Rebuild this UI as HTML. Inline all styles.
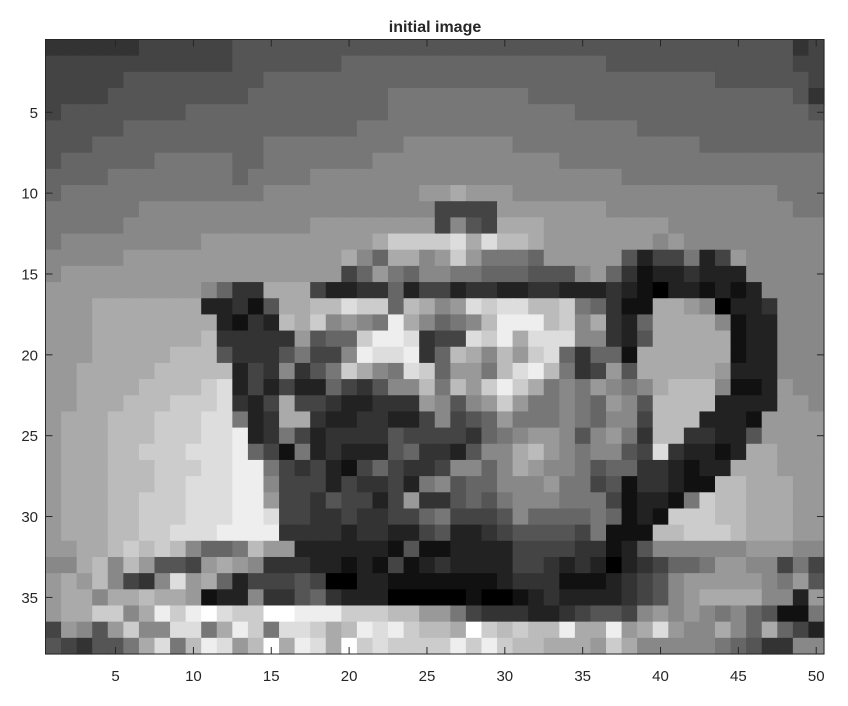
<!DOCTYPE html>
<html><head><meta charset="utf-8"><style>
html,body{margin:0;padding:0;background:#fff;width:848px;height:706px;overflow:hidden}
svg text{font-family:"Liberation Sans",Arial,sans-serif;fill:#262626}
</style></head><body>
<svg id="chart" width="848" height="706" xmlns="http://www.w3.org/2000/svg">
<text x="435" y="32" text-anchor="middle" font-size="16" font-weight="bold">initial image</text>
<g id="cells"></g>
<g id="ticks"></g>
<rect x="45.5" y="39.5" width="778.5" height="614.5" fill="none" stroke="#262626" stroke-width="1"/>
</svg>
<script>
// grayscale rows: one hex digit per pixel (value*17)
const pixelRows = [
"333333444444555555555555555555555555555555555555"+"34",
"4444444444445555555666666"+"66666666666555555555555"+"44",
"4444455555555566666666666"+"66666666666666666655555"+"54",
"4444555555555666666666777"+"77777766666666666666666"+"53",
"4555555556666666666666777"+"77777777766666666666666"+"65",
"5555566666666666666677777"+"77777777777776666666666"+"66",
"5556666666666677777777788"+"88888777777777777666666"+"66",
"5666666777776677777778888"+"88888888777777777777777"+"77",
"6666777777776777788888888"+"88888888888877777777777"+"77",
"6777777777777788888888889"+"9a999888888888888888887"+"77",
"7777778888888888888888888"+"44449999999888888888888"+"77",
"7777788888888888899999999"+"4854aaa9999999988888888"+"88",
"788888888899999999999accc"+"cdadbba9999999898888888"+"88",
"8888899999999999999a86aa8"+"9c977769999952447249888"+"88",
"8999999999999999999469768"+"87766655589631223222888"+"88",
"99999999998633aaa42233624"+"42332233222321022121288"+"88",
"999aaaaaaa22315aabbdcc6ba"+"89dcddbbc76311aa9802238"+"88",
"999aaaaaaaa2132bac8987ea8"+"678beeebc8a326aaaa81228"+"88",
"999aaaaaaab333339566ceed3"+"44dceaddd88325aaaaa1228"+"88",
"999aaaaabbb533357448edde3"+"6ba8b9cd63661aaaaaa1228"+"88",
"99aaaaabbbbb2438357ca87dc"+"6997bdeb73495aaaaa92228"+"88",
"99aaaabbbbcd242422643588b"+"7b9ceca7879878abbb81129"+"88",
"99aaabbbcccd324a443223339"+"8589c977876985bbbb22229"+"98",
"9aaabbbcccdd723aa32233224"+"84569777876884bbb222199"+"99",
"9aaabbbcccdde237423333544"+"44367899858973bb3322599"+"99",
"9aaabbcccddde641723222563"+"32588ab9878854d32212aa9"+"99",
"9aaabbbcccddee74342146433"+"48868a9887566332122aaa9"+"99",
"9aaabbbccdddee84442433427"+"856688897745133211bbaaa"+"99",
"9aaabbcccdddee94435442493"+"35657888777412217cbbaaa"+"99",
"9aaabbcccdddeed4433433446"+"744458666676121cccbbaaa"+"99",
"9aaabbccdddeeee3333233224"+"52234555547111bbcccbaaa"+"99",
"99aabcbcb8667b99222222151"+"12222444433125888888999"+"88",
"88ab8b95549a9833322121412"+"32222443232023466799884"+"74",
"9a9b8438d9a62444540022111"+"11112333111234589999987"+"95",
"9aa8aabaa9122833563222000"+"00100123222234589aaaa88"+"29",
"9aacc8aecefdccffeeecccbb9"+"97433322345548989878651"+"17",
"49859c88dd7aec7ddcabedecb"+"bafcbcbbeaae9ad988a86a6"+"42",
"543557ad7bed9bfaedafcdccc"+"cececbbaaa9ca8888876533"+"88"
];
const xTicks = [5,10,15,20,25,30,35,40,45,50];
const yTicks = [5,10,15,20,25,30,35];
const nCols = 50, nRows = 38;
const X0 = 45.5, Y0 = 39.5, W = 778.5, H = 614.5;
const NS = "http://www.w3.org/2000/svg";
const cw = W / nCols, ch = H / nRows;
function xPos(c){ return X0 + (c - 0.5) * cw; }   // left edge of column c (1-based)
function yPos(r){ return Y0 + (r - 0.5) * ch; }
const cells = document.getElementById('cells');
pixelRows.forEach(function(row, ri){
  for (let ci = 0; ci < row.length && ci < nCols; ci++) {
    const v = parseInt(row[ci], 16) * 17;
    const rect = document.createElementNS(NS, 'rect');
    
    
    rect.setAttribute('x', xPos(ci + 0.5));
    rect.setAttribute('y', yPos(ri + 0.5));
    rect.setAttribute('width', cw + 0.6);
    rect.setAttribute('height', ch + 0.6);
    rect.setAttribute('fill', 'rgb(' + v + ',' + v + ',' + v + ')');
    cells.appendChild(rect);
  }
});
const ticks = document.getElementById('ticks');
function line(x1,y1,x2,y2){
  const l = document.createElementNS(NS, 'line');
  
  
  l.setAttribute('x1',x1); l.setAttribute('y1',y1); l.setAttribute('x2',x2); l.setAttribute('y2',y2);
  l.setAttribute('stroke','#262626'); l.setAttribute('stroke-width','1');
  ticks.appendChild(l);
}
function label(x,y,txt,anchor,name){
  const t = document.createElementNS(NS, 'text');
  
  
  t.setAttribute('x',x); t.setAttribute('y',y);
  t.setAttribute('text-anchor',anchor); t.setAttribute('font-size','15');
  t.textContent = txt;
  ticks.appendChild(t);
}
xTicks.forEach(function(v){
  const x = X0 + (v - 0.5) * cw;
  line(x, Y0, x, Y0 + 7);
  line(x, Y0 + H, x, Y0 + H - 7);
  label(x, 681, String(v), 'middle', 'x-tick-label');
});
yTicks.forEach(function(v){
  const y = Y0 + (v - 0.5) * ch;
  line(X0, y, X0 + 7, y);
  line(X0 + W, y, X0 + W - 7, y);
  label(38, y + 5.5, String(v), 'end', 'y-tick-label');
});
</script>
</body></html>
